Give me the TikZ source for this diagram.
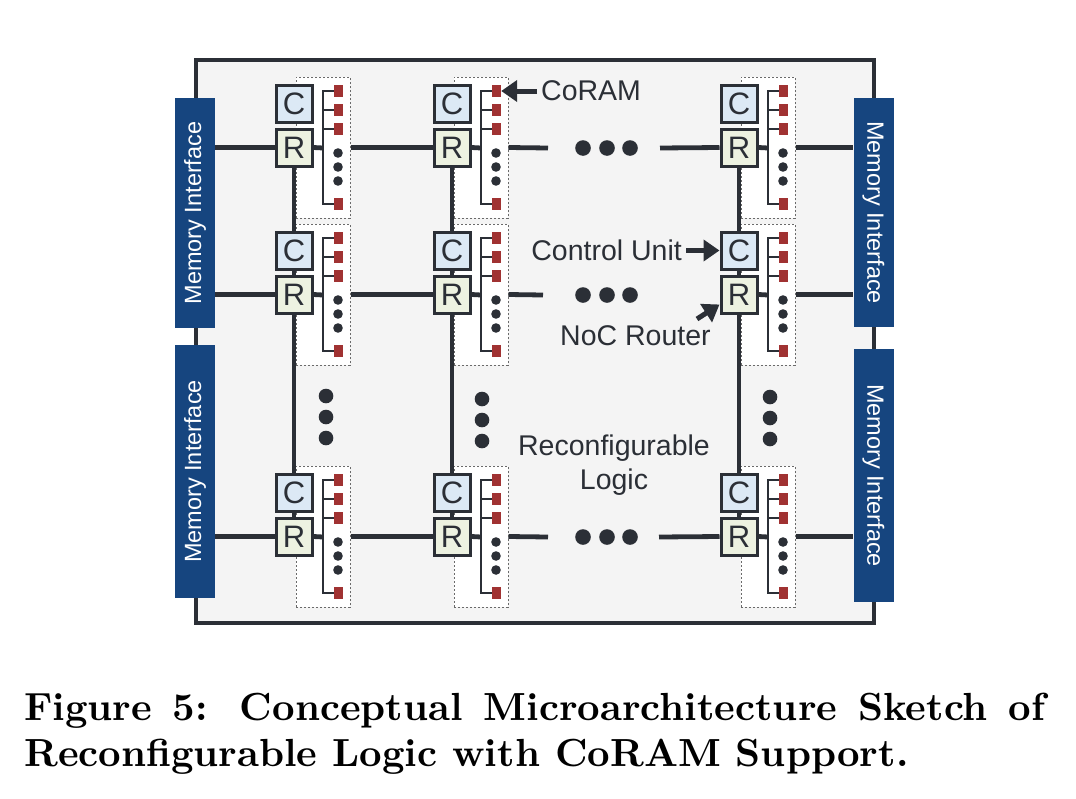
\documentclass[tikz,border=0pt]{standalone}
\usepackage{fontspec}
\newfontfamily\labfont{Liberation Sans}
\newfontfamily\capfont{lmroman10-bold.otf}
\usetikzlibrary{arrows.meta}
\definecolor{dk}{HTML}{2B2F36}
\definecolor{bgc}{HTML}{F4F4F4}
\definecolor{cfill}{HTML}{DCE9F5}
\definecolor{rfill}{HTML}{EDF2E1}
\definecolor{redc}{HTML}{A03232}
\definecolor{miblue}{HTML}{16457F}
\definecolor{dashc}{HTML}{6A6A6A}
\begin{document}
\begin{tikzpicture}[x=1pt,y=-1pt,
  wire/.style={line width=4.8pt,draw=dk},
  bus/.style={line width=2.8pt,draw=dk,line join=miter},
  tilebox/.style={draw=dashc,fill=white,line width=1pt,dash pattern=on 2.2pt off 1.8pt,
    minimum width=54pt,minimum height=141pt,inner sep=0pt},
  cbox/.style={draw=dk,line width=3pt,fill=cfill,minimum width=36pt,minimum height=37pt,
    inner sep=0pt,text=dk,font=\labfont\fontsize{31}{31}\selectfont},
  rbox/.style={cbox,fill=rfill},
  cell/.style={fill=redc,minimum width=9pt,minimum height=12pt,inner sep=0pt},
  mi/.style={fill=miblue,minimum height=40pt,inner sep=0pt,text=white,
    font=\labfont\fontsize{23.5}{23.5}\selectfont},
  lab/.style={text=dk,inner sep=4pt,font=\labfont\fontsize{28.5}{34}\selectfont},
  arr/.style={line width=5pt,draw=dk,-{Triangle[length=16pt,width=21pt]}},
  capf/.style={inner sep=0pt,font=\capfont\fontsize{39.2}{46}\selectfont}
]
\useasboundingbox (0,0) rectangle (1076,798);
\fill[white] (0,0) rectangle (1076,798);
% outer frame
\draw[line width=4.5pt,draw=dk,fill=bgc] (196,60) rectangle (874,623);
% memory interfaces
\node[mi,rotate=90,minimum width=230pt] (ML1) at (195,213) {Memory Interface};
\node[mi,rotate=90,minimum width=253pt] (ML2) at (195,471.5) {Memory Interface};
\node[mi,rotate=-90,minimum width=229pt] (MR1) at (873.5,212.5) {Memory Interface};
\node[mi,rotate=-90,minimum width=253pt] (MR2) at (873.5,475.5) {Memory Interface};
% tiles
\foreach \cx/\ci in {276/1,434/2,721/3}{
  \foreach \ly/\ri in {148/1,295/2,537/3}{
    \node[tilebox] (T-\ci-\ri) at ({\cx+47},{\ly-0.5}) {};
    \node[cbox] (C-\ci-\ri) at ({\cx+18},{\ly-44.5}) {C};
    \node[rbox] (R-\ci-\ri) at ({\cx+18},{\ly-0.5}) {R};
    \foreach \k/\dy in {1/-57,2/-38,3/-19,4/56}{
      \node[cell] (M-\ci-\ri-\k) at ({\cx+62.5},{\ly+\dy}) {};
    }
    \coordinate (B-\ci-\ri) at ({\cx+47},\ly);
    \draw[bus] (M-\ci-\ri-1.west) -| (B-\ci-\ri |- M-\ci-\ri-4.west) -- (M-\ci-\ri-4.west);
    \draw[bus] (B-\ci-\ri |- M-\ci-\ri-2.west) -- (M-\ci-\ri-2.west);
    \draw[bus] (B-\ci-\ri |- M-\ci-\ri-3.west) -- (M-\ci-\ri-3.west);
    \draw[wire] (R-\ci-\ri.east) -- (B-\ci-\ri);
    \foreach \dy in {5,19,33}{
      \fill[dk] ({\cx+62},{\ly+\dy}) circle (4.8);
    }
  }
}
% vertical links
\foreach \ci in {1,2,3}{
  \draw[wire] (R-\ci-1.south) -- (C-\ci-2.north);
  \draw[wire] (C-\ci-2.south) -- (R-\ci-2.north);
  \draw[wire] (R-\ci-2.south) -- (C-\ci-3.north);
  \draw[wire] (C-\ci-3.south) -- (R-\ci-3.north);
}
% horizontal links
\draw[wire] (ML1.south |- R-1-1.west) -- (R-1-1.west);
\draw[wire] (ML1.south |- R-1-2.west) -- (R-1-2.west);
\draw[wire] (ML2.south |- R-1-3.west) -- (R-1-3.west);
\foreach \ri in {1,2,3}{
  \draw[wire] (T-1-\ri.east |- R-1-\ri.east) -- (R-2-\ri.west);
  \draw[wire] (T-3-\ri.east |- R-3-\ri.east) -- (MR1.south |- R-3-\ri.east);
}
\coordinate (G1a) at (548,148);
\coordinate (G1b) at (660,148);
\coordinate (G2a) at (543,295);
\coordinate (G3a) at (548,537);
\coordinate (G3b) at (659,537);
\draw[wire] (T-2-1.east |- R-2-1.east) -- (G1a);
\draw[wire] (G1b) -- (R-3-1.west);
\draw[wire] (T-2-2.east |- R-2-2.east) -- (G2a);
\draw[wire] (T-2-3.east |- R-2-3.east) -- (G3a);
\draw[wire] (G3b) -- (R-3-3.west);
% ellipsis dots
\foreach \y in {148,295,537}{
  \foreach \x in {583,607,630}{
    \fill[dk] (\x,\y) circle (7.8);
  }
}
\foreach \x/\ya in {326/396,482/399,770/397}{
  \foreach \d in {0,21,42}{
    \fill[dk] (\x,{\ya+\d}) circle (7.3);
  }
}
% labels
\node[lab,anchor=west] (coram) at (537,91) {CoRAM};
\draw[arr] (coram.west) -- (M-2-1-1.east);
\node[lab,anchor=east] (cu) at (686,250.5) {Control Unit};
\draw[arr] (cu.east) -- (C-3-2.west);
\node[lab,anchor=west] (noc) at (556,336) {NoC Router};
\coordinate (nocs) at (697,319);
\draw[arr] (nocs) -- ([yshift=-10pt]R-3-2.west);
\node[lab,anchor=base] (rl1) at (614,455) {Reconfigurable};
\node[lab,anchor=base] (rl2) at (614,489) {Logic};
% caption
\node[capf,anchor=base west] (cap1) at (24,720)
  {\makebox[1021pt][s]{Figure 5: Conceptual Microarchitecture Sketch of}};
\node[capf,anchor=base west] (cap2) at (24,766)
  {Reconfigurable Logic with CoRAM Support.};
\end{tikzpicture}
\end{document}
